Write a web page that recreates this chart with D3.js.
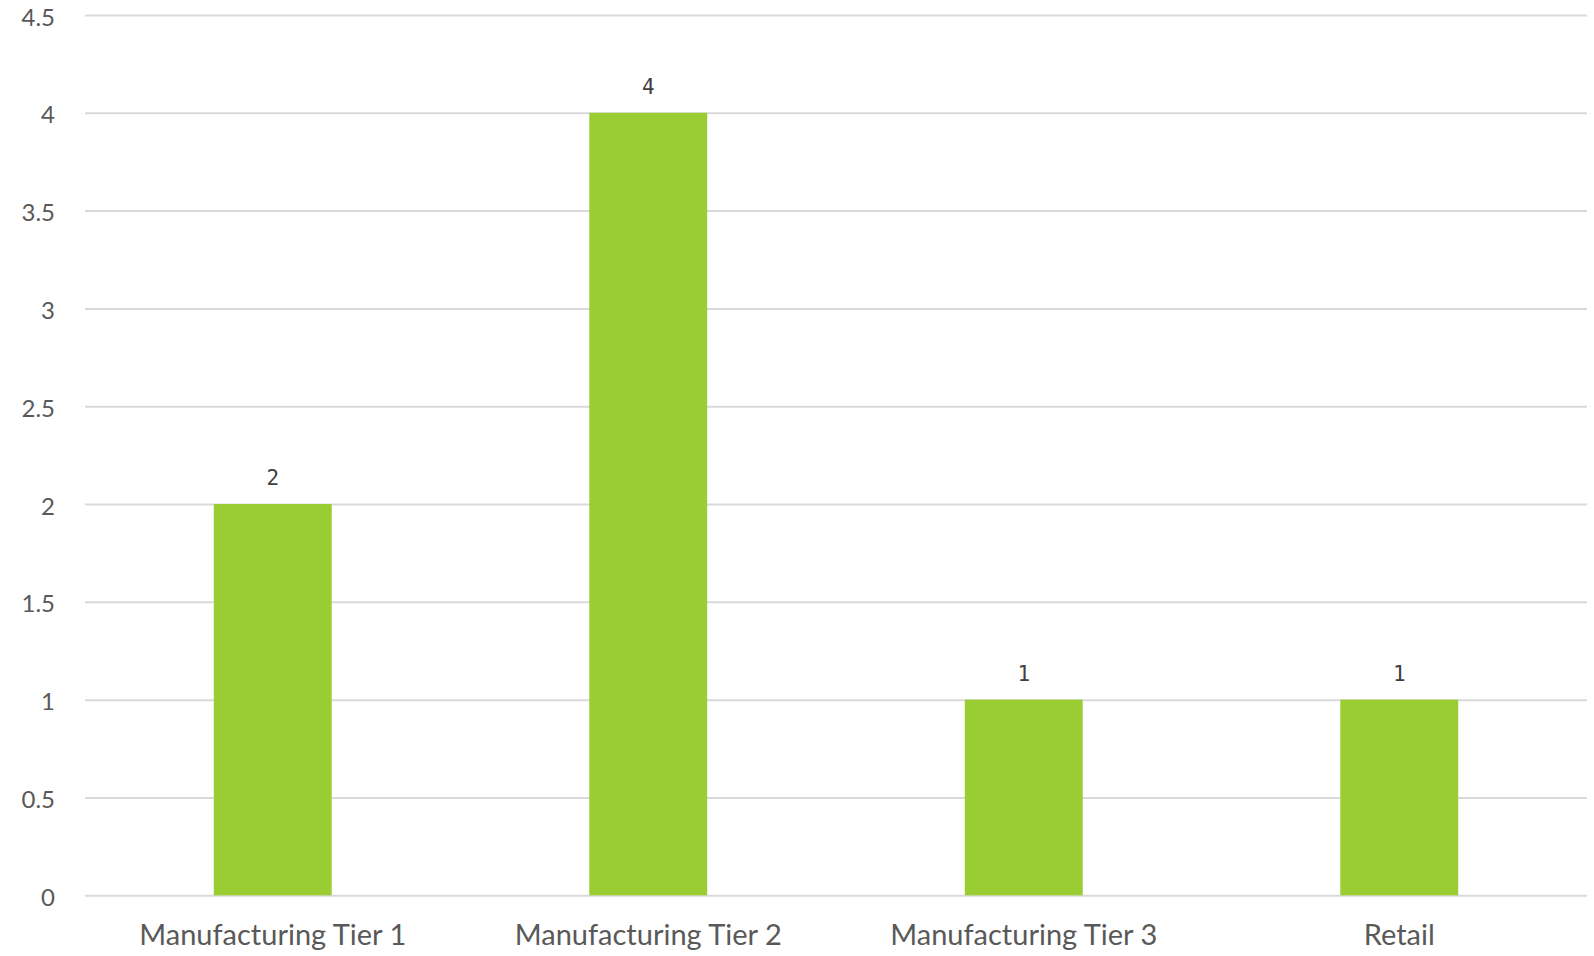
<!DOCTYPE html>
<html>
<head>
<meta charset="utf-8">
<script src="https://cdn.jsdelivr.net/npm/d3@7"></script>
<style>
  html, body { margin: 0; padding: 0; background: #fff; }
  svg { display: block; }
</style>
</head>
<body>
<svg id="chart" width="1594" height="956"></svg>
<script>
const categories = ["Manufacturing Tier 1", "Manufacturing Tier 2", "Manufacturing Tier 3", "Retail"];
const values = [2, 4, 1, 1];
const yTicks = [0, 0.5, 1, 1.5, 2, 2.5, 3, 3.5, 4, 4.5];

const svg = d3.select("#chart");
const margin = { left: 85, right: 7, top: 15, bottom: 61 };
const W = 1594, H = 956;

const x = d3.scaleBand()
  .domain(categories)
  .range([margin.left, W - margin.right])
  .paddingInner(0.686)
  .paddingOuter(0.343);

const y = d3.scaleLinear()
  .domain([0, 4.5])
  .range([H - margin.bottom + 0.3, margin.top]);

// gridlines
const grid = svg.append("g")
  .attr("transform", `translate(${margin.left},0)`)
  .call(d3.axisLeft(y).tickValues(yTicks).tickSize(-(W - margin.left - margin.right)).tickFormat(""));
grid.select(".domain").remove();
grid.selectAll("line").attr("stroke", "#d9d9d9").attr("stroke-width", 2);

// y labels
const yAxis = svg.append("g")
  .attr("transform", `translate(${margin.left - 30},0)`)
  .call(d3.axisLeft(y).tickValues(yTicks).tickSize(0).tickPadding(0).tickFormat(d3.format("")));
yAxis.select(".domain").remove();
yAxis.selectAll("text")
  .attr("font-family", "Lato, 'Open Sans', sans-serif")
  .attr("font-size", 24)
  .attr("fill", "#595959")
  .attr("dy", "0.42em");

// bars
svg.append("g").selectAll("rect")
  .data(values)
  .join("rect")
  .attr("x", (d, i) => x(categories[i]))
  .attr("y", d => y(d))
  .attr("width", x.bandwidth())
  .attr("height", d => y(0) - y(d))
  .attr("fill", "#9acd32");

// data labels
svg.append("g").selectAll("text")
  .data(values)
  .join("text")
  .attr("x", (d, i) => x(categories[i]) + x.bandwidth() / 2)
  .attr("y", d => y(d) - 19)
  .attr("text-anchor", "middle")
  .attr("font-family", "'DejaVu Sans Mono', monospace")
  .attr("font-size", 21)
  .attr("fill", "#404040")
  .text(d => d);

// x labels
const xAxis = svg.append("g")
  .attr("transform", `translate(0,${H - margin.bottom})`)
  .call(d3.axisBottom(x).tickSize(0).tickPadding(0));
xAxis.select(".domain").remove();
xAxis.selectAll("text")
  .attr("font-family", "Lato, 'Open Sans', sans-serif")
  .attr("font-size", 29)
  .attr("fill", "#595959")
  .attr("dy", null)
  .attr("y", 50);
</script>
</body>
</html>
